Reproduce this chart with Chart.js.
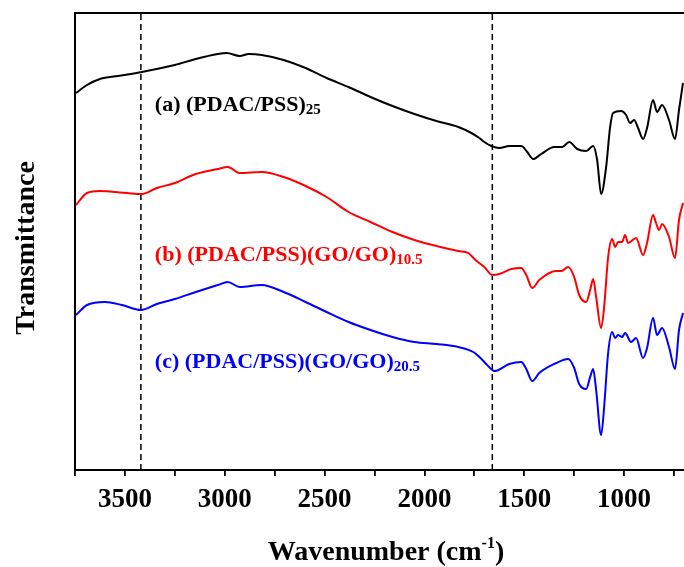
<!DOCTYPE html>
<html><head><meta charset="utf-8">
<script src="https://cdn.jsdelivr.net/npm/chart.js@4"></script>
<style>html,body{margin:0;padding:0;background:#fff;overflow:hidden}#wrap{width:684px;height:567px;position:relative}</style>
</head><body><div id="wrap"><canvas id="c"></canvas></div>
<script>
// Wavenumber (cm-1) and transmittance (arbitrary units, offset curves)
const wnA = [3745,3690,3625,3535,3415,3250,3145,3035,2990,2925,2880,2815,2705,2595,2490,2380,2270,2160,2050,1940,1830,1765,1725,1700,1665,1625,1575,1515,1485,1455,1415,1350,1310,1275,1235,1190,1155,1135,1115,1090,1070,1055,1015,990,970,950,930,905,885,855,835,810,775,745,725,705];
const tA  = [377,385,391,394,398,405,411,416,417,414,416,415,410,402,392,383,373,364,356,349,343,337,332,328,324,322,324,324,318,311,316,323,323,328,321,319,324,310,276,303,343,357,359,355,347,350,342,331,342,370,358,365,350,331,360,387];

const wnB = [3745,3690,3625,3490,3415,3340,3250,3145,3035,2985,2925,2815,2705,2595,2490,2380,2270,2160,2050,1940,1830,1780,1745,1700,1660,1625,1565,1515,1490,1460,1425,1340,1315,1280,1250,1225,1190,1170,1155,1140,1115,1100,1080,1060,1045,1030,1010,995,980,940,905,885,855,840,825,810,775,745,725,705];
const tB  = [265,277,279,277,276,282,287,296,301,303,297,298,293,284,273,258,248,238,230,224,219,217,210,203,195,196,201,202,195,182,190,199,199,203,193,175,168,180,191,173,142,163,213,231,223,228,228,235,227,232,215,227,255,247,240,246,233,212,250,267];

const wnC = [3745,3690,3600,3515,3420,3340,3250,3145,3035,2985,2925,2815,2705,2595,2490,2380,2270,2160,2050,1940,1830,1755,1725,1700,1660,1650,1575,1515,1490,1460,1425,1340,1280,1250,1225,1190,1170,1155,1140,1115,1100,1080,1060,1045,1030,1010,995,965,940,905,885,855,835,810,775,745,725,705];
const tC  = [155,165,168,165,160,166,171,178,185,188,183,185,178,168,158,148,140,133,128,126,123,118,113,108,100,99,106,108,101,89,97,107,111,102,86,81,93,101,80,35,63,117,138,132,135,133,137,128,132,112,122,152,135,142,123,101,140,157];

const markerLines = [3420, 1660];
const xTicks = [3750,3500,3250,3000,2750,2500,2250,2000,1750,1500,1250,1000,750];
const xLabels = ['3500','3000','2500','2000','1500','1000'];
const yRange = [0, 457];

const seriesNames = ['(a) (PDAC/PSS)', '(b) (PDAC/PSS)(GO/GO)', '(c) (PDAC/PSS)(GO/GO)'];
const seriesSubs = ['25', '10.5', '20.5'];
const seriesColors = ['#000000', '#ff0000', '#0000ff'];
const xTitle = ['Wavenumber (cm', '-1', ')'];
const yTitle = 'Transmittance';

const toPts = (xs, ys) => xs.map((x, i) => ({x, y: ys[i]}));
const FONT = "'Liberation Serif','Times New Roman',serif";

const datasets = [
  {data: toPts(wnA, tA), borderColor: seriesColors[0]},
  {data: toPts(wnB, tB), borderColor: seriesColors[1]},
  {data: toPts(wnC, tC), borderColor: seriesColors[2]},
].map(d => Object.assign(d, {borderWidth: 2, pointRadius: 0, fill: false, cubicInterpolationMode: 'monotone'}));

markerLines.forEach(w => datasets.push({
  data: [{x: w, y: yRange[0]}, {x: w, y: yRange[1]}],
  borderColor: '#000', borderWidth: 1.5, borderDash: [6, 4], pointRadius: 0, fill: false
}));

const textPlugin = {
  id: 'texts',
  afterDatasetsDraw(chart) {
    const {ctx, scales: {x, y}} = chart;
    ctx.save();
    const labelPos = [[3350, 359], [3350, 209], [3350, 102]];
    labelPos.forEach((p, i) => {
      let px = x.getPixelForValue(p[0]);
      const py = y.getPixelForValue(p[1]);
      ctx.fillStyle = seriesColors[i];
      ctx.textBaseline = 'alphabetic';
      ctx.textAlign = 'left';
      ctx.font = "bold 22px " + FONT;
      ctx.fillText(seriesNames[i], px, py);
      px += ctx.measureText(seriesNames[i]).width;
      ctx.font = "bold 15px " + FONT;
      ctx.fillText(seriesSubs[i], px, py + 3);
    });
    // x axis title with superscript
    ctx.fillStyle = '#000';
    ctx.font = "bold 28px " + FONT;
    const w1 = ctx.measureText(xTitle[0]).width, w3 = ctx.measureText(xTitle[2]).width;
    ctx.font = "bold 16px " + FONT;
    const w2 = ctx.measureText(xTitle[1]).width;
    const total = w1 + w2 + w3;
    const sx = 386 - total / 2;
    const by = 560;
    ctx.font = "bold 28px " + FONT;
    ctx.fillText(xTitle[0], sx, by);
    ctx.font = "bold 16px " + FONT;
    ctx.fillText(xTitle[1], sx + w1, by - 12);
    ctx.font = "bold 28px " + FONT;
    ctx.fillText(xTitle[2], sx + w1 + w2, by);
    // y axis title
    ctx.translate(34, 248);
    ctx.rotate(-Math.PI / 2);
    ctx.textAlign = 'center';
    ctx.font = "bold 28px " + FONT;
    ctx.fillText(yTitle, 0, 0);
    ctx.restore();
  }
};

new Chart(document.getElementById('c'), {
  type: 'line',
  data: {datasets},
  plugins: [textPlugin],
  options: {
    responsive: true, maintainAspectRatio: false, animation: false,
    layout: {padding: 0},
    plugins: {legend: {display: false}, tooltip: {enabled: false}},
    scales: {
      x: {
        type: 'linear', reverse: true, min: 700, max: 3750, position: 'bottom',
        afterBuildTicks: s => { s.ticks = xTicks.map(v => ({value: v})); },
        afterFit: s => { s.height = 97; },
        border: {display: true, color: '#000', width: 2},
        grid: {display: true, drawOnChartArea: false, drawTicks: true, tickLength: 6, color: '#000', lineWidth: 1.8},
        ticks: {
          color: '#000', padding: 8, maxRotation: 0, autoSkip: false,
          font: {family: FONT, size: 27, weight: 'bold'},
          callback: v => xLabels.includes(String(v)) ? String(v) : ''
        }
      },
      xTop: {
        type: 'linear', position: 'top', reverse: true, min: 700, max: 3750,
        afterFit: s => { s.height = 13; },
        border: {display: true, color: '#000', width: 2},
        grid: {display: false, drawTicks: false},
        ticks: {display: false}
      },
      y: {
        type: 'linear', min: yRange[0], max: yRange[1],
        afterFit: s => { s.width = 75; },
        border: {display: true, color: '#000', width: 2},
        grid: {display: false},
        ticks: {display: false}
      }
    }
  }
});
</script>
</body></html>
